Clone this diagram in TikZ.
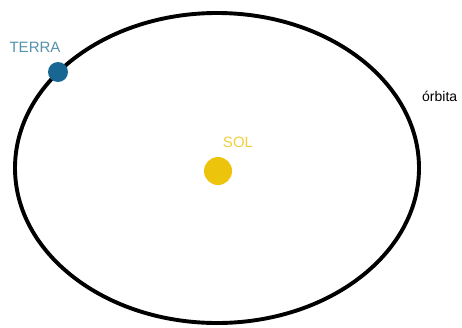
\documentclass[tikz,border=0pt]{standalone}
\usepackage{fontspec}
\setmainfont{Liberation Sans}
\usetikzlibrary{positioning}
\definecolor{terrablue}{RGB}{24,102,146}
\definecolor{terratext}{RGB}{84,146,172}
\definecolor{solyellow}{RGB}{236,196,12}
\definecolor{soltext}{RGB}{240,206,64}

\begin{document}
\begin{tikzpicture}[
  x=1pt, y=-1pt,
  orbit/.style={draw=black, line width=3.9pt},
  planet/.style={circle, fill=terrablue, minimum size=20pt, inner sep=0pt},
  star/.style={circle, fill=solyellow, minimum size=28pt, inner sep=0pt},
  lbl/.style={inner sep=0pt, font=\fontsize{15}{17}\selectfont},
  lblsmall/.style={inner sep=0pt, font=\fontsize{14}{16}\selectfont}
]
  \useasboundingbox (0,0) rectangle (462,327);
  \coordinate (centro) at (217,168);
  \draw[orbit] (centro) ellipse [x radius=202, y radius=155];

  \node[star]   (sol)   at (218,171) {};
  \node[planet] (terra) at (58,72)   {};

  \node[lbl, text=terratext, above=9pt of terra, xshift=-23pt] (terralbl) {TERRA};
  \node[lbl, text=soltext,   above=9pt of sol,   xshift=20pt]  (sollbl)   {SOL};
  \node[lblsmall, anchor=west] (orbitalbl) at (422,96) {órbita};
\end{tikzpicture}
\end{document}
